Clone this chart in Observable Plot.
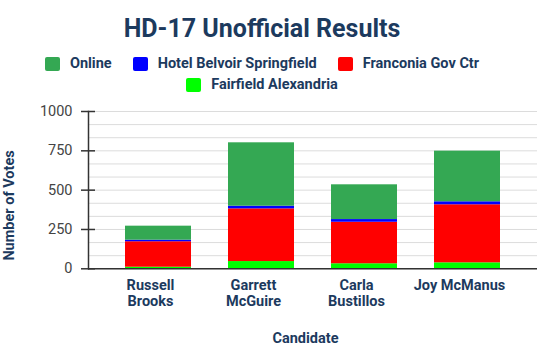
<!DOCTYPE html>
<html><head><meta charset="utf-8">
<script src="https://cdn.jsdelivr.net/npm/d3@7"></script>
<script src="https://cdn.jsdelivr.net/npm/@observablehq/plot@0.6"></script>
<style>
body{margin:0;background:#fff;font-family:Roboto,sans-serif;width:537px;height:360px;overflow:hidden}
#title{height:45px;box-sizing:border-box;padding-top:14px;padding-right:13px;text-align:center;font-weight:700;font-size:25px;line-height:29px;color:#1c3a5e;}
#legend{height:50px;box-sizing:border-box;padding-top:8px;width:460px;margin-left:32px;display:flex;flex-wrap:wrap;justify-content:center;column-gap:21px;font-size:14.5px;font-weight:700;line-height:20px;color:#1c3a5e}
.item{display:flex;align-items:center;white-space:nowrap}
.sw{width:15px;height:14px;border-radius:2px;margin-right:10px}
#chart svg{display:block}
</style>
</head><body>
<div id="title">HD-17 Unofficial Results</div>
<div id="legend"></div>
<div id="chart"></div>
<script>
const categories = ["Russell Brooks", "Garrett McGuire", "Carla Bustillos", "Joy McManus"];
const tickLabels = ["Russell\nBrooks", "Garrett\nMcGuire", "Carla\nBustillos", "Joy McManus"];
const series = ["Online", "Hotel Belvoir Springfield", "Franconia Gov Ctr", "Fairfield Alexandria"];
const colors = ["#34a853", "#0000ff", "#ff0000", "#00ff00"];
const online = [89, 403, 221, 322];
const belvoir = [10, 17, 17, 19];
const franconia = [162, 335, 264, 369];
const fairfield = [10, 46, 32, 38];
const yTicks = [0, 250, 500, 750, 1000];
const gridTicks = [0, 83.33, 166.67, 250, 333.33, 416.67, 500, 583.33, 666.67, 750, 833.33, 916.67, 1000];

const navy = "#1c3a5e";

// legend
const legend = document.getElementById("legend");
series.forEach((s, i) => {
  const it = document.createElement("div");
  it.className = "item";
  const sw = document.createElement("div");
  sw.className = "sw";
  sw.style.background = colors[i];
  const t = document.createElement("span");
  t.textContent = s;
  it.appendChild(sw); it.appendChild(t);
  legend.appendChild(it);
});

// rows, stacked bottom to top
const stackOrder = [[fairfield, series[3]], [franconia, series[2]], [belvoir, series[1]], [online, series[0]]];
const rows = [];
categories.forEach((c, i) => {
  stackOrder.forEach(([arr, name]) => rows.push({candidate: c, site: name, votes: arr[i]}));
});

const chart = Plot.plot({
  width: 537, height: 265,
  marginTop: 16, marginBottom: 91.7, marginLeft: 88, marginRight: 0,
  style: {fontFamily: "Roboto, sans-serif", fontSize: "14.5px", background: "white", overflow: "visible"},
  x: {domain: categories, paddingInner: 0.356, paddingOuter: 0.337, label: null},
  y: {domain: [0, 1000], label: null},
  color: {domain: series, range: colors},
  marks: [
    Plot.gridY(gridTicks, {stroke: "#dcdcdc", strokeOpacity: 1}),
    Plot.barY(rows, {x: "candidate", y: "votes", fill: "site"}),
    Plot.frame({anchor: "left", stroke: "#333", strokeWidth: 1.5}),
    Plot.ruleY([0], {stroke: "#333", strokeWidth: 1.5}),
    Plot.axisY(yTicks, {tickSize: 14, dx: 7, tickPadding: 9, stroke: "#333", strokeWidth: 1.5, fill: "#444", fontWeight: 400, label: null, tickFormat: d => `${d}`}),
    Plot.axisX({tickSize: 0, tickPadding: 10, dx: -8, fill: navy, fontWeight: 700, lineHeight: 1.08, label: null, tickFormat: d => tickLabels[categories.indexOf(d)]}),
    Plot.text(["Number of Votes"], {frameAnchor: "left", textAnchor: "middle", lineAnchor: "middle", rotate: -90, dx: -79.3, dy: 15.3, fontWeight: 700, fill: navy, text: d => d}),
    Plot.text(["Candidate"], {frameAnchor: "bottom", textAnchor: "middle", lineAnchor: "middle", dx: -7.5, dy: 69.4, fontWeight: 700, fill: navy, text: d => d})
  ]
});
document.getElementById("chart").appendChild(chart);
</script>
</body></html>
